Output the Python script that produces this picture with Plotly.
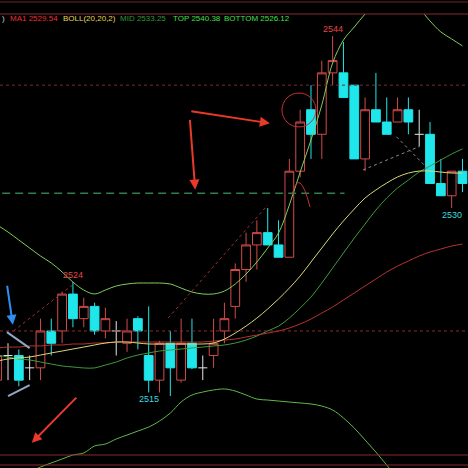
import plotly.graph_objects as go

# ---------------- data (price units, one entry per bar) ----------------
idx = list(range(44))
opens = [2516, 2518, 2518, 2517, 2517, 2520, 2520, 2523, 2521, 2522, 2520, 2520, 2519, 2521, 2518, 2516,
         2519, 2516, 2519, 2517, 2518, 2520, 2522, 2525, 2527, 2528, 2527, 2526, 2533, 2538, 2536, 2541,
         2541, 2540, 2534, 2538, 2537, 2537, 2538, 2536, 2536, 2532, 2531, 2533]
highs = [2518.5, 2519, 2518.5, 2518, 2521, 2521, 2523.2, 2524, 2522.7, 2522.3, 2521.9, 2520.8, 2521, 2521.2, 2522, 2519.2,
         2520, 2521, 2521, 2518, 2521, 2522.3, 2525.5, 2528, 2529, 2530, 2529, 2534, 2538, 2540, 2542, 2544,
         2543.5, 2540, 2539, 2541, 2539, 2539, 2539, 2538, 2537, 2534, 2533, 2534]
lows = [2515.5, 2516, 2515.5, 2516, 2516, 2518, 2519, 2520.3, 2520.3, 2519.7, 2519.4, 2518, 2518.3, 2518.5, 2515, 2515,
        2514.7, 2515.8, 2516.9, 2516, 2517, 2519, 2521, 2524, 2525, 2527, 2526, 2526, 2532.5, 2534, 2534, 2540,
        2539, 2534, 2533, 2537, 2536, 2537, 2536, 2535, 2532, 2531, 2530, 2531.3]
closes = [2518, 2518, 2516, 2517, 2520, 2519, 2523, 2521, 2522, 2520, 2521, 2520, 2520, 2520, 2516, 2519,
          2517, 2519, 2517, 2517, 2519, 2521, 2525, 2527, 2528, 2527, 2526, 2533, 2537, 2536, 2541, 2542,
          2539, 2534, 2538, 2537, 2536, 2538, 2537, 2536, 2532, 2531, 2533, 2532]

boll_top = [2528.62, 2528.05, 2527.40, 2526.75, 2526.10, 2525.53, 2524.80, 2523.98, 2523.33, 2523.01, 2523.33,
            2523.66, 2523.82, 2523.90, 2523.90, 2523.90, 2523.82, 2523.49, 2523.17, 2523.01, 2523.01, 2523.25,
            2523.82, 2524.63, 2525.61, 2526.75, 2527.97, 2530.25, 2532.93, 2535.54, 2538.39, 2541.80, 2543.67,
            2544.73, 2545.79, 2546.69, 2547.09, 2547.09, 2546.69, 2546.20, 2545.22, 2544.33, 2543.76, 2543.19]
boll_bottom = [2507.06, 2507.55, 2508.03, 2508.52, 2508.93, 2509.26, 2509.58, 2509.91, 2510.07, 2510.64, 2510.80,
               2511.21, 2511.53, 2511.86, 2512.18, 2512.67, 2513.32, 2514.22, 2514.79, 2515.03, 2515.20, 2515.28,
               2515.11, 2514.79, 2514.46, 2514.38, 2514.30, 2514.22, 2514.14, 2514.06, 2513.89, 2513.57, 2512.92,
               2512.10, 2511.13, 2510.15, 2509.09, 2508.03, 2507.06, 2506.24, 2505.80, 2505.80, 2505.80, 2505.80]
boll_mid = [2518.04, 2517.88, 2517.72, 2517.64, 2517.47, 2517.31, 2517.15, 2517.07, 2516.99, 2516.99, 2517.23,
            2517.47, 2517.80, 2518.04, 2518.21, 2518.37, 2518.45, 2518.53, 2518.61, 2518.69, 2518.78, 2518.86,
            2519.02, 2519.26, 2519.59, 2520.00, 2520.40, 2521.05, 2521.87, 2522.76, 2523.90, 2525.12, 2526.34,
            2527.56, 2528.70, 2529.84, 2530.82, 2531.63, 2532.28, 2532.93, 2533.42, 2533.91, 2534.40, 2534.81]
yellow_ma = [2517.55, 2517.72, 2517.80, 2517.88, 2518.04, 2518.21, 2518.37, 2518.53, 2518.69, 2518.86, 2519.02,
             2519.10, 2519.10, 2519.02, 2518.94, 2518.94, 2518.94, 2518.94, 2518.94, 2518.94, 2519.02, 2519.34,
             2519.83, 2520.40, 2521.05, 2521.79, 2522.60, 2523.49, 2524.47, 2525.61, 2526.75, 2527.89, 2528.95,
             2529.92, 2530.82, 2531.47, 2532.04, 2532.53, 2532.85, 2533.01, 2533.01, 2532.93, 2532.85, 2532.85]
ma1 = [2518.61, 2518.69, 2518.69, 2518.78, 2518.78, 2518.86, 2518.86, 2518.94, 2518.94, 2519.02, 2519.02,
       2519.10, 2519.10, 2519.10, 2519.10, 2519.10, 2519.10, 2519.10, 2519.10, 2519.10, 2519.18, 2519.26,
       2519.34, 2519.51, 2519.67, 2519.83, 2520.00, 2520.24, 2520.57, 2520.97, 2521.46, 2521.95, 2522.52,
       2523.09, 2523.66, 2524.23, 2524.80, 2525.28, 2525.69, 2526.10, 2526.42, 2526.67, 2526.91, 2527.07]

legend_parts = [")", "MA1 2529.54", "BOLL(20,20,2)", "MID 2533.25", "TOP 2540.38", "BOTTOM 2526.12"]
extreme_labels = [(31, "high", "2544"), (7, "high", "2524"), (14, "low", "2515"), (42, "low", "2530")]

# ---------------- styling ----------------
RED = "#d24a4a"
CYAN = "#1fe6ea"
X_RANGE = [0.26, 43.51]
Y_RANGE = [2508.85, 2545.79]

fig = go.Figure()

doji = [i for i in idx if opens[i] == closes[i]]
body = [i for i in idx if opens[i] != closes[i]]

fig.add_trace(go.Candlestick(
    x=body,
    open=[opens[i] for i in body], high=[highs[i] for i in body],
    low=[lows[i] for i in body], close=[closes[i] for i in body],
    increasing=dict(line=dict(color=RED, width=1), fillcolor="black"),
    decreasing=dict(line=dict(color=CYAN, width=1), fillcolor=CYAN),
    whiskerwidth=0, showlegend=False, hoverinfo="skip",
))

# doji bars: vertical wick + horizontal tick
dx, dy = [], []
for i in doji:
    dx += [i, i, None, i - 0.42, i + 0.42, None]
    dy += [lows[i], highs[i], None, opens[i], opens[i], None]
fig.add_trace(go.Scatter(x=dx, y=dy, mode="lines", line=dict(color="#e6e6e6", width=1),
                         showlegend=False, hoverinfo="skip"))

for vals, col, w in [(boll_bottom, "#5fb84a", 1), (boll_mid, "#3e9a3e", 1), (ma1, "#b83232", 1),
                     (yellow_ma, "#d9d77a", 1), (boll_top, "#7fcf5a", 1)]:
    fig.add_trace(go.Scatter(x=idx, y=vals, mode="lines", line=dict(color=col, width=w, shape="spline"),
                             showlegend=False, hoverinfo="skip"))

shapes = []
# horizontal reference lines (price levels)
shapes.append(dict(type="line", xref="paper", x0=0, x1=1, yref="y", y0=2540.0, y1=2540.0,
                   line=dict(color="#7a2a2a", width=1, dash="dot")))
shapes.append(dict(type="line", xref="paper", x0=0, x1=1, yref="y", y0=2520.0, y1=2520.0,
                   line=dict(color="#8a2c2c", width=1, dash="dot")))
shapes.append(dict(type="line", xref="x", x0=X_RANGE[0] - 1, x1=32.1, yref="y", y0=2531.2, y1=2531.2,
                   line=dict(color="#2f7f4f", width=1.5, dash="8px,5px")))
# drawn trend lines
shapes.append(dict(type="line", xref="x", yref="y", x0=1.5, y0=2520.0, x1=6.9, y1=2523.7,
                   line=dict(color="#a03030", width=1, dash="dot")))
shapes.append(dict(type="line", xref="x", yref="y", x0=15.8, y0=2521.05, x1=25.0, y1=2530.25,
                   line=dict(color="#a03030", width=1, dash="dot")))
shapes.append(dict(type="line", xref="x", yref="y", x0=33.8, y0=2533.1, x1=39.0, y1=2535.0,
                   line=dict(color="#8a8a8a", width=1, dash="dot")))
shapes.append(dict(type="line", xref="x", yref="y", x0=36.9, y0=2535.8, x1=39.8, y1=2533.2,
                   line=dict(color="#8a8a8a", width=1, dash="dot")))
shapes.append(dict(type="line", xref="x", yref="y", x0=0.9, y0=2519.9, x1=3.0, y1=2518.6,
                   line=dict(color="#8fa6c4", width=2)))
shapes.append(dict(type="line", xref="x", yref="y", x0=1.0, y0=2514.7, x1=3.0, y1=2515.6,
                   line=dict(color="#8fa6c4", width=2)))
# circle and arc
shapes.append(dict(type="circle", xref="x", yref="y", x0=26.32, x1=29.46, y0=2536.6, y1=2539.36,
                   line=dict(color="#c83232", width=1)))
shapes.append(dict(type="path", xref="x", yref="y", path="M 27.25 2531.06 Q 27.9 2533.5 28.91 2530.09",
                   line=dict(color="#c83232", width=1)))
# frame lines
for yp, col in [(1.0264, "#6e2424"), (1.0, "#8a2a2a"), (0.0286, "#8a2a2a"), (0.0066, "#8a2a2a")]:
    shapes.append(dict(type="line", xref="paper", x0=0, x1=1, yref="paper", y0=yp, y1=yp,
                       line=dict(color=col, width=1)))

annotations = []
# arrows
for (x0, y0, x1, y1, col) in [(17.8, 2537.9, 25.2, 2536.9, "#e8392a"),
                              (17.8, 2537.3, 18.3, 2531.5, "#e8392a"),
                              (7.45, 2514.7, 3.2, 2510.9, "#e8392a"),
                              (0.9, 2523.8, 1.45, 2520.5, "#2f8ff0")]:
    annotations.append(dict(x=x1, y=y1, ax=x0, ay=y0, xref="x", yref="y", axref="x", ayref="y",
                            showarrow=True, arrowhead=2, arrowsize=1, arrowwidth=2, arrowcolor=col, text=""))

for i, kind, txt in extreme_labels:
    col = "#e04848" if kind == "high" else "#3fd8dc"
    annotations.append(dict(x=i, y=highs[i] if kind == "high" else lows[i], xref="x", yref="y",
                            text=txt, showarrow=False, yanchor="bottom" if kind == "high" else "top",
                            font=dict(family="Liberation Sans", size=9, color=col)))

legend_x = [0, 8, 61, 118, 171, 222]
legend_col = ["#cccccc", "#e83434", "#e3db55", "#2f9a3a", "#3ee04a", "#3ee04a"]
for txt, px, col in zip(legend_parts, legend_x, legend_col):
    annotations.append(dict(x=px / 468, y=1 - 5 / 454, xref="paper", yref="paper", xanchor="left",
                            yanchor="middle", text=txt, showarrow=False,
                            font=dict(family="Liberation Sans", size=8, color=col)))

fig.update_layout(
    width=468, height=468, margin=dict(l=0, r=0, t=14, b=0),
    paper_bgcolor="black", plot_bgcolor="black",
    xaxis=dict(range=X_RANGE, visible=False, rangeslider=dict(visible=False), fixedrange=True),
    yaxis=dict(range=Y_RANGE, visible=False, fixedrange=True),
    shapes=shapes, annotations=annotations,
    boxgap=0.1, boxgroupgap=0.1, showlegend=False,
)

fig.write_html("out.html", config={"displayModeBar": False},
               post_script="document.body.style.margin='0';document.body.style.background='black';")
